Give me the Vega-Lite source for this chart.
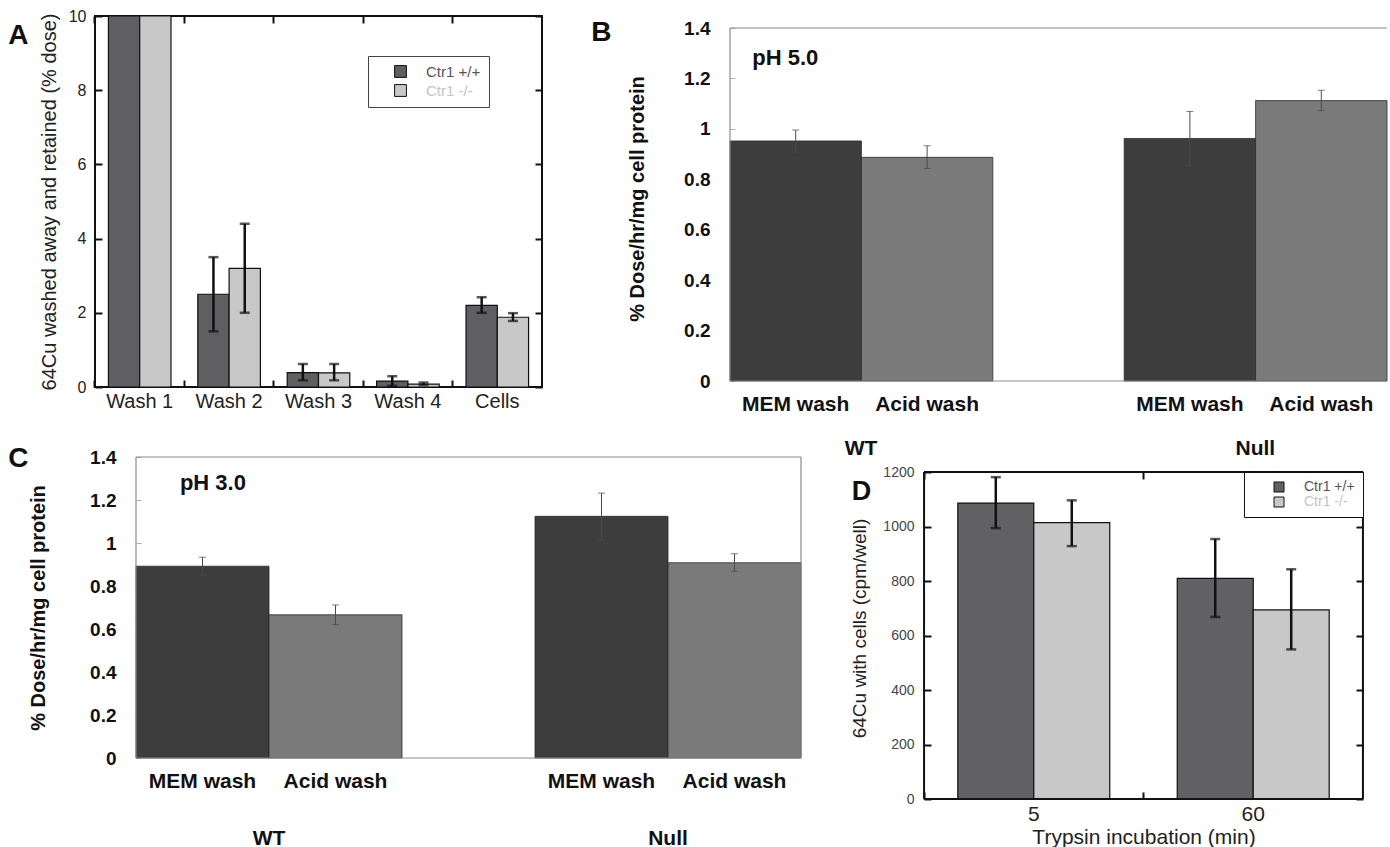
{
  "$schema": "https://vega.github.io/schema/vega-lite/v6.json",
  "padding": {"left": 7, "top": 7, "right": 0, "bottom": 0},
  "background": "white",
  "config": {
    "font": "Liberation Sans",
    "view": {"stroke": null},
    "axis": {"grid": false, "labelFont": "Liberation Sans", "titleFont": "Liberation Sans"},
    "legend": {"labelFont": "Liberation Sans"},
    "title": {"font": "Liberation Sans"}
  },
  "datasets": {
    "a": [
      {"step": "Wash 1", "genotype": "Ctr1 +/+", "value": 10, "lo": null, "hi": null},
      {"step": "Wash 1", "genotype": "Ctr1 -/-", "value": 10, "lo": null, "hi": null},
      {"step": "Wash 2", "genotype": "Ctr1 +/+", "value": 2.5, "lo": 1.5, "hi": 3.5},
      {"step": "Wash 2", "genotype": "Ctr1 -/-", "value": 3.2, "lo": 2.0, "hi": 4.4},
      {"step": "Wash 3", "genotype": "Ctr1 +/+", "value": 0.39, "lo": 0.18, "hi": 0.62},
      {"step": "Wash 3", "genotype": "Ctr1 -/-", "value": 0.38, "lo": 0.18, "hi": 0.62},
      {"step": "Wash 4", "genotype": "Ctr1 +/+", "value": 0.16, "lo": 0.03, "hi": 0.29},
      {"step": "Wash 4", "genotype": "Ctr1 -/-", "value": 0.08, "lo": 0.05, "hi": 0.12},
      {"step": "Cells", "genotype": "Ctr1 +/+", "value": 2.2, "lo": 2.0, "hi": 2.42},
      {"step": "Cells", "genotype": "Ctr1 -/-", "value": 1.88, "lo": 1.78, "hi": 1.99}
    ],
    "b": [
      {"key": "WT|MEM", "group": "WT", "wash": "MEM wash", "value": 0.952, "lo": 0.908, "hi": 0.995},
      {"key": "WT|Acid", "group": "WT", "wash": "Acid wash", "value": 0.887, "lo": 0.843, "hi": 0.933},
      {"key": "Null|MEM", "group": "Null", "wash": "MEM wash", "value": 0.962, "lo": 0.853, "hi": 1.069},
      {"key": "Null|Acid", "group": "Null", "wash": "Acid wash", "value": 1.112, "lo": 1.072, "hi": 1.153}
    ],
    "c": [
      {"key": "WT|MEM", "group": "WT", "wash": "MEM wash", "value": 0.892, "lo": 0.851, "hi": 0.934},
      {"key": "WT|Acid", "group": "WT", "wash": "Acid wash", "value": 0.666, "lo": 0.62, "hi": 0.712},
      {"key": "Null|MEM", "group": "Null", "wash": "MEM wash", "value": 1.124, "lo": 1.014, "hi": 1.232},
      {"key": "Null|Acid", "group": "Null", "wash": "Acid wash", "value": 0.908, "lo": 0.868, "hi": 0.95}
    ],
    "d": [
      {"time": "5", "genotype": "Ctr1 +/+", "value": 1086, "lo": 994, "hi": 1181},
      {"time": "5", "genotype": "Ctr1 -/-", "value": 1014, "lo": 928, "hi": 1096},
      {"time": "60", "genotype": "Ctr1 +/+", "value": 810, "lo": 668, "hi": 954},
      {"time": "60", "genotype": "Ctr1 -/-", "value": 694, "lo": 549, "hi": 843}
    ],
    "one": [{"k": 1}]
  },
  "columns": 1,
  "align": "none",
  "spacing": {"row": -13, "column": 0},
  "resolve": {"scale": {"color": "independent", "xOffset": "independent"}, "legend": {"color": "independent"}},
  "concat": [
    {
      "spacing": 47,
      "resolve": {"scale": {"color": "independent", "xOffset": "independent"}, "legend": {"color": "independent"}},
      "hconcat": [
        {
          "width": 447, "height": 371,
          "view": {"stroke": "#111111", "strokeWidth": 2},
          "title": {"text": "A", "orient": "left", "anchor": "end", "frame": "group", "angle": 0, "align": "right", "baseline": "top", "fontSize": 28, "fontWeight": "bold", "color": "#111111", "offset": -9.5, "dy": 6},
          "data": {"name": "a"},
          "resolve": {"axis": {"x": "independent", "y": "independent"}},
          "layer": [
            {
              "mark": {"type": "bar", "stroke": "#111111", "strokeWidth": 1.2},
              "encoding": {
                "x": {"field": "step", "type": "nominal", "scale": {"domain": ["Wash 1", "Wash 2", "Wash 3", "Wash 4", "Cells"], "paddingInner": 0.3, "paddingOuter": 0.15}, "title": null,
                      "axis": {"orient": "bottom", "ticks": false, "domain": false, "labelAngle": 0, "labelFontSize": 20, "labelPadding": 4, "labelColor": "#222222"}},
                "xOffset": {"field": "genotype", "type": "nominal", "scale": {"domain": ["Ctr1 +/+", "Ctr1 -/-"], "paddingInner": 0, "paddingOuter": 0}},
                "y": {"field": "value", "type": "quantitative", "scale": {"domain": [0, 10], "nice": false}, "title": "64Cu washed away and retained (% dose)",
                      "axis": {"orient": "left", "values": [0, 2, 4, 6, 8, 10], "format": "d", "domain": false, "tickSize": -7, "tickWidth": 2, "tickColor": "#111111", "labelFontSize": 16, "labelPadding": 16, "labelColor": "#222222", "titleFontSize": 20, "titleFontWeight": "normal", "titleColor": "#222222", "titlePadding": 9}},
                "color": {"field": "genotype", "type": "nominal", "scale": {"domain": ["Ctr1 +/+", "Ctr1 -/-"], "range": ["#5f5f61", "#c8c8c8"]},
                          "legend": {"orient": "none", "legendX": 273, "legendY": 40, "title": null, "strokeColor": "#444444", "fillColor": "white", "padding": 8, "symbolType": "square", "symbolSize": 140, "symbolStrokeColor": "#111111", "symbolStrokeWidth": 1, "symbolOffset": 17, "labelOffset": 18, "labelFontSize": 15, "rowPadding": 2, "labelColor": "#555555",
                                     "encode": {"labels": {"update": {"fill": {"signal": "datum.value === 'Ctr1 -/-' ? '#c4c4c4' : '#555555'"}}}}}}
              }
            },
            {
              "mark": {"type": "rule", "color": "#111111", "strokeWidth": 2.5},
              "encoding": {
                "x": {"field": "step", "type": "nominal", "scale": {"domain": ["Wash 1", "Wash 2", "Wash 3", "Wash 4", "Cells"], "paddingInner": 0.3, "paddingOuter": 0.15}, "title": null,
                      "axis": {"orient": "top", "labels": false, "domain": false, "tickSize": -7, "tickWidth": 2, "tickColor": "#111111", "bandPosition": -0.2143}},
                "xOffset": {"field": "genotype", "type": "nominal", "scale": {"domain": ["Ctr1 +/+", "Ctr1 -/-"], "paddingInner": 0, "paddingOuter": 0}},
                "y": {"field": "lo", "type": "quantitative", "scale": {"domain": [0, 10], "nice": false}, "title": null,
                      "axis": {"orient": "right", "labels": false, "domain": false, "values": [0, 2, 4, 6, 8, 10], "tickSize": -7, "tickWidth": 2, "tickColor": "#111111"}},
                "y2": {"field": "hi"}
              }
            },
            {
              "mark": {"type": "tick", "color": "#111111", "thickness": 2.5, "size": 10},
              "encoding": {
                "x": {"field": "step", "type": "nominal", "scale": {"domain": ["Wash 1", "Wash 2", "Wash 3", "Wash 4", "Cells"], "paddingInner": 0.3, "paddingOuter": 0.15}, "title": null,
                      "axis": {"orient": "bottom", "labels": false, "domain": false, "tickSize": -7, "tickWidth": 2, "tickColor": "#111111", "bandPosition": -0.2143}},
                "xOffset": {"field": "genotype", "type": "nominal", "scale": {"domain": ["Ctr1 +/+", "Ctr1 -/-"], "paddingInner": 0, "paddingOuter": 0}},
                "y": {"field": "lo", "type": "quantitative", "scale": {"domain": [0, 10], "nice": false}, "axis": null}
              }
            },
            {
              "mark": {"type": "tick", "color": "#111111", "thickness": 2.5, "size": 10},
              "encoding": {
                "x": {"field": "step", "type": "nominal", "scale": {"domain": ["Wash 1", "Wash 2", "Wash 3", "Wash 4", "Cells"], "paddingInner": 0.3, "paddingOuter": 0.15}, "axis": null},
                "xOffset": {"field": "genotype", "type": "nominal", "scale": {"domain": ["Ctr1 +/+", "Ctr1 -/-"], "paddingInner": 0, "paddingOuter": 0}},
                "y": {"field": "hi", "type": "quantitative", "scale": {"domain": [0, 10], "nice": false}, "axis": null}
              }
            }
          ]
        },
        {
          "width": 657, "height": 365,
          "title": {"text": "B", "orient": "left", "anchor": "end", "frame": "group", "angle": 0, "align": "right", "baseline": "top", "fontSize": 28, "fontWeight": "bold", "color": "#111111", "offset": -4, "dy": 3},
          "data": {"name": "b"},
          "resolve": {"axis": {"x": "independent", "y": "independent"}},
          "layer": [
            {
              "mark": {"type": "bar", "stroke": "#2a2a2a", "strokeWidth": 0.8},
              "encoding": {
                "x": {"field": "key", "type": "nominal", "scale": {"domain": ["WT|MEM", "WT|Acid", "gap", "Null|MEM", "Null|Acid"], "paddingInner": 0, "paddingOuter": 0}, "title": null,
                      "axis": {"orient": "bottom", "labelExpr": "indexof(datum.value, 'MEM') >= 0 ? 'MEM wash' : (indexof(datum.value, 'Acid') >= 0 ? 'Acid wash' : '')", "ticks": false, "domain": false, "labelAngle": 0, "labelFontSize": 21, "labelFontWeight": "bold", "labelColor": "#111111", "labelPadding": 12}},
                "y": {"field": "value", "type": "quantitative", "scale": {"domain": [0, 1.4476], "nice": false}, "title": "% Dose/hr/mg cell protein",
                      "axis": {"orient": "left", "values": [0, 0.2, 0.4, 0.6, 0.8, 1, 1.2, 1.4], "format": "~g", "domain": false, "tickSize": -5, "tickColor": "#b0b0b0", "tickWidth": 1, "labelFontSize": 19, "labelFontWeight": "bold", "labelColor": "#111111", "labelPadding": 25, "titleFontSize": 20, "titleFontWeight": "bold", "titleColor": "#111111", "titlePadding": 36}},
                "color": {"field": "wash", "type": "nominal", "scale": {"domain": ["MEM wash", "Acid wash"], "range": ["#3d3d3d", "#7a7a7a"]}, "legend": null}
              }
            },
            {
              "mark": {"type": "rule", "color": "#4a4a4a", "strokeWidth": 1},
              "encoding": {
                "x": {"field": "key", "type": "nominal", "scale": {"domain": ["WT|MEM", "WT|Acid", "gap", "Null|MEM", "Null|Acid"], "paddingInner": 0, "paddingOuter": 0}, "title": null,
                      "axis": {"orient": "bottom", "offset": 52, "labelOffset": -66, "labelExpr": "datum.value === 'WT|Acid' ? 'WT' : (datum.value === 'Null|Acid' ? 'Null' : '')", "ticks": false, "domain": false, "labelAngle": 0, "labelFontSize": 21, "labelFontWeight": "bold", "labelColor": "#111111", "labelPadding": 4}},
                "y": {"field": "lo", "type": "quantitative", "scale": {"domain": [0, 1.4476], "nice": false}, "axis": null},
                "y2": {"field": "hi"}
              }
            },
            {
              "mark": {"type": "tick", "color": "#4a4a4a", "thickness": 1, "size": 7},
              "encoding": {
                "x": {"field": "key", "type": "nominal", "scale": {"domain": ["WT|MEM", "WT|Acid", "gap", "Null|MEM", "Null|Acid"], "paddingInner": 0, "paddingOuter": 0}, "axis": null},
                "y": {"field": "lo", "type": "quantitative", "scale": {"domain": [0, 1.4476], "nice": false}, "axis": null}
              }
            },
            {
              "mark": {"type": "tick", "color": "#4a4a4a", "thickness": 1, "size": 7},
              "encoding": {
                "x": {"field": "key", "type": "nominal", "scale": {"domain": ["WT|MEM", "WT|Acid", "gap", "Null|MEM", "Null|Acid"], "paddingInner": 0, "paddingOuter": 0}, "axis": null},
                "y": {"field": "hi", "type": "quantitative", "scale": {"domain": [0, 1.4476], "nice": false}, "axis": null}
              }
            },
            {
              "data": {"name": "one"},
              "mark": {"type": "rule", "color": "#8c8c8c", "strokeWidth": 1.2},
              "encoding": {"y": {"datum": 1.4, "type": "quantitative", "axis": null}}
            },
            {
              "data": {"name": "one"},
              "mark": {"type": "rule", "color": "#8c8c8c", "strokeWidth": 1.2},
              "encoding": {"y": {"datum": 0, "type": "quantitative", "axis": null}}
            },
            {
              "data": {"name": "one"},
              "mark": {"type": "rule", "color": "#8c8c8c", "strokeWidth": 1.2},
              "encoding": {
                "x": {"datum": "WT|MEM", "type": "nominal", "bandPosition": 0, "axis": null},
                "y": {"datum": 0, "type": "quantitative", "axis": null},
                "y2": {"datum": 1.4}
              }
            },
            {
              "data": {"values": [{"label": "pH 5.0"}]},
              "mark": {"type": "text", "align": "left", "baseline": "middle", "fontSize": 22, "fontWeight": "bold", "color": "#111111"},
              "encoding": {
                "x": {"datum": "WT|MEM", "type": "nominal", "bandPosition": 0.17, "axis": null},
                "y": {"datum": 1.28, "type": "quantitative", "axis": null},
                "text": {"field": "label"}
              }
            }
          ]
        }
      ]
    },
    {
      "spacing": 48,
      "resolve": {"scale": {"color": "independent", "xOffset": "independent"}, "legend": {"color": "independent"}},
      "hconcat": [
        {
          "width": 706, "height": 301,
          "title": {"text": "C", "orient": "left", "anchor": "end", "frame": "group", "angle": 0, "align": "right", "baseline": "top", "fontSize": 28, "fontWeight": "bold", "color": "#111111", "offset": -20, "dy": -12},
          "data": {"name": "c"},
          "resolve": {"axis": {"x": "independent", "y": "independent"}},
          "layer": [
            {
              "mark": {"type": "bar", "stroke": "#2a2a2a", "strokeWidth": 0.8},
              "encoding": {
                "x": {"field": "key", "type": "nominal", "scale": {"domain": ["WT|MEM", "WT|Acid", "gap", "Null|MEM", "Null|Acid"], "range": [41, 706], "paddingInner": 0, "paddingOuter": 0}, "title": null,
                      "axis": {"orient": "bottom", "labelExpr": "indexof(datum.value, 'MEM') >= 0 ? 'MEM wash' : (indexof(datum.value, 'Acid') >= 0 ? 'Acid wash' : '')", "ticks": false, "domain": false, "labelAngle": 0, "labelFontSize": 21, "labelFontWeight": "bold", "labelColor": "#111111", "labelPadding": 12}},
                "y": {"field": "value", "type": "quantitative", "scale": {"domain": [0, 1.4], "nice": false}, "title": "% Dose/hr/mg cell protein",
                      "axis": {"orient": "left", "offset": -41, "values": [0, 0.2, 0.4, 0.6, 0.8, 1, 1.2, 1.4], "format": "~g", "domain": false, "tickSize": -5, "tickColor": "#b0b0b0", "tickWidth": 1, "labelFontSize": 19, "labelFontWeight": "bold", "labelColor": "#111111", "labelPadding": 25, "titleFontSize": 20, "titleFontWeight": "bold", "titleColor": "#111111", "titlePadding": 41}},
                "color": {"field": "wash", "type": "nominal", "scale": {"domain": ["MEM wash", "Acid wash"], "range": ["#3d3d3d", "#7a7a7a"]}, "legend": null}
              }
            },
            {
              "mark": {"type": "rule", "color": "#4a4a4a", "strokeWidth": 1},
              "encoding": {
                "x": {"field": "key", "type": "nominal", "scale": {"domain": ["WT|MEM", "WT|Acid", "gap", "Null|MEM", "Null|Acid"], "range": [41, 706], "paddingInner": 0, "paddingOuter": 0}, "title": null,
                      "axis": {"orient": "bottom", "offset": 65, "labelOffset": -66.5, "labelExpr": "datum.value === 'WT|Acid' ? 'WT' : (datum.value === 'Null|Acid' ? 'Null' : '')", "ticks": false, "domain": false, "labelAngle": 0, "labelFontSize": 21, "labelFontWeight": "bold", "labelColor": "#111111", "labelPadding": 4}},
                "y": {"field": "lo", "type": "quantitative", "scale": {"domain": [0, 1.4], "nice": false}, "axis": null},
                "y2": {"field": "hi"}
              }
            },
            {
              "mark": {"type": "tick", "color": "#4a4a4a", "thickness": 1, "size": 7},
              "encoding": {
                "x": {"field": "key", "type": "nominal", "scale": {"domain": ["WT|MEM", "WT|Acid", "gap", "Null|MEM", "Null|Acid"], "range": [41, 706], "paddingInner": 0, "paddingOuter": 0}, "axis": null},
                "y": {"field": "lo", "type": "quantitative", "scale": {"domain": [0, 1.4], "nice": false}, "axis": null}
              }
            },
            {
              "mark": {"type": "tick", "color": "#4a4a4a", "thickness": 1, "size": 7},
              "encoding": {
                "x": {"field": "key", "type": "nominal", "scale": {"domain": ["WT|MEM", "WT|Acid", "gap", "Null|MEM", "Null|Acid"], "range": [41, 706], "paddingInner": 0, "paddingOuter": 0}, "axis": null},
                "y": {"field": "hi", "type": "quantitative", "scale": {"domain": [0, 1.4], "nice": false}, "axis": null}
              }
            },
            {
              "data": {"name": "one"},
              "mark": {"type": "rule", "color": "#8c8c8c", "strokeWidth": 1.2},
              "encoding": {
                "x": {"datum": "WT|MEM", "type": "nominal", "bandPosition": 0, "axis": null},
                "x2": {"datum": "Null|Acid", "bandPosition": 1},
                "y": {"datum": 1.4, "type": "quantitative", "axis": null}
              }
            },
            {
              "data": {"name": "one"},
              "mark": {"type": "rule", "color": "#8c8c8c", "strokeWidth": 1.2},
              "encoding": {
                "x": {"datum": "WT|MEM", "type": "nominal", "bandPosition": 0, "axis": null},
                "x2": {"datum": "Null|Acid", "bandPosition": 1},
                "y": {"datum": 0, "type": "quantitative", "axis": null}
              }
            },
            {
              "data": {"name": "one"},
              "mark": {"type": "rule", "color": "#8c8c8c", "strokeWidth": 1.2},
              "encoding": {
                "x": {"datum": "WT|MEM", "type": "nominal", "bandPosition": 0, "axis": null},
                "y": {"datum": 0, "type": "quantitative", "axis": null},
                "y2": {"datum": 1.4}
              }
            },
            {
              "data": {"name": "one"},
              "mark": {"type": "rule", "color": "#8c8c8c", "strokeWidth": 1.2},
              "encoding": {
                "x": {"datum": "Null|Acid", "type": "nominal", "bandPosition": 1, "axis": null},
                "y": {"datum": 0, "type": "quantitative", "axis": null},
                "y2": {"datum": 1.4}
              }
            },
            {
              "data": {"values": [{"label": "pH 3.0"}]},
              "mark": {"type": "text", "align": "left", "baseline": "middle", "fontSize": 22, "fontWeight": "bold", "color": "#111111"},
              "encoding": {
                "x": {"datum": "WT|MEM", "type": "nominal", "bandPosition": 0.33, "axis": null},
                "y": {"datum": 1.28, "type": "quantitative", "axis": null},
                "text": {"field": "label"}
              }
            }
          ]
        },
        {
          "width": 439, "height": 342,
          "title": {"text": "D", "orient": "left", "anchor": "end", "frame": "group", "angle": 0, "align": "right", "baseline": "top", "fontSize": 27, "fontWeight": "bold", "color": "#111111", "offset": 0, "dy": 22, "dx": 40},
          "data": {"name": "d"},
          "resolve": {"axis": {"x": "independent", "y": "independent"}},
          "layer": [
            {
              "mark": {"type": "bar", "stroke": "#111111", "strokeWidth": 1.2},
              "encoding": {
                "x": {"field": "time", "type": "nominal", "scale": {"domain": ["5", "60"], "paddingInner": 0.3075, "paddingOuter": 0.154}, "title": "Trypsin incubation (min)",
                      "axis": {"orient": "bottom", "ticks": false, "domain": false, "labelAngle": 0, "labelFontSize": 21, "labelPadding": 4, "labelColor": "#222222", "titleFontSize": 21, "titleFontWeight": "normal", "titleColor": "#222222", "titlePadding": 2}},
                "xOffset": {"field": "genotype", "type": "nominal", "scale": {"domain": ["Ctr1 +/+", "Ctr1 -/-"], "paddingInner": 0, "paddingOuter": 0}},
                "y": {"field": "value", "type": "quantitative", "scale": {"domain": [0, 1255.05], "nice": false}, "title": "64Cu with cells (cpm/well)",
                      "axis": {"orient": "left", "values": [0, 200, 400, 600, 800, 1000, 1200], "format": "d", "domain": false, "tickSize": -7, "tickWidth": 2, "tickColor": "#111111", "labelFontSize": 14, "labelPadding": 17, "labelColor": "#444444", "titleFontSize": 19, "titleFontWeight": "normal", "titleColor": "#222222", "titlePadding": 13}},
                "color": {"field": "genotype", "type": "nominal", "scale": {"domain": ["Ctr1 +/+", "Ctr1 -/-"], "range": ["#616163", "#c8c8c8"]},
                          "legend": {"orient": "none", "legendX": 320, "legendY": 15, "title": null, "strokeColor": "#111111", "fillColor": "white", "padding": 8, "symbolType": "square", "symbolSize": 100, "symbolStrokeColor": "#111111", "symbolStrokeWidth": 1, "symbolOffset": 20, "labelOffset": 18, "labelFontSize": 14, "rowPadding": 1, "labelColor": "#555555",
                                     "encode": {"labels": {"update": {"fill": {"signal": "datum.value === 'Ctr1 -/-' ? '#c4c4c4' : '#555555'"}}}}}}
              }
            },
            {
              "mark": {"type": "rule", "color": "#111111", "strokeWidth": 2.5},
              "encoding": {
                "x": {"field": "time", "type": "nominal", "scale": {"domain": ["5", "60"], "paddingInner": 0.3075, "paddingOuter": 0.154}, "title": null,
                      "axis": {"orient": "top", "offset": -15, "labels": false, "domain": false, "tickSize": -7, "tickWidth": 2, "tickColor": "#111111", "bandPosition": -0.222}},
                "xOffset": {"field": "genotype", "type": "nominal", "scale": {"domain": ["Ctr1 +/+", "Ctr1 -/-"], "paddingInner": 0, "paddingOuter": 0}},
                "y": {"field": "lo", "type": "quantitative", "scale": {"domain": [0, 1255.05], "nice": false}, "title": null,
                      "axis": {"orient": "right", "labels": false, "domain": false, "values": [0, 200, 400, 600, 800, 1000, 1200], "tickSize": -7, "tickWidth": 2, "tickColor": "#111111"}},
                "y2": {"field": "hi"}
              }
            },
            {
              "mark": {"type": "tick", "color": "#111111", "thickness": 2.5, "size": 10},
              "encoding": {
                "x": {"field": "time", "type": "nominal", "scale": {"domain": ["5", "60"], "paddingInner": 0.3075, "paddingOuter": 0.154}, "title": null,
                      "axis": {"orient": "bottom", "labels": false, "domain": false, "tickSize": -7, "tickWidth": 2, "tickColor": "#111111", "bandPosition": -0.222}},
                "xOffset": {"field": "genotype", "type": "nominal", "scale": {"domain": ["Ctr1 +/+", "Ctr1 -/-"], "paddingInner": 0, "paddingOuter": 0}},
                "y": {"field": "lo", "type": "quantitative", "scale": {"domain": [0, 1255.05], "nice": false}, "axis": null}
              }
            },
            {
              "mark": {"type": "tick", "color": "#111111", "thickness": 2.5, "size": 10},
              "encoding": {
                "x": {"field": "time", "type": "nominal", "scale": {"domain": ["5", "60"], "paddingInner": 0.3075, "paddingOuter": 0.154}, "axis": null},
                "xOffset": {"field": "genotype", "type": "nominal", "scale": {"domain": ["Ctr1 +/+", "Ctr1 -/-"], "paddingInner": 0, "paddingOuter": 0}},
                "y": {"field": "hi", "type": "quantitative", "scale": {"domain": [0, 1255.05], "nice": false}, "axis": null}
              }
            },
            {
              "data": {"name": "one"},
              "mark": {"type": "rule", "color": "#111111", "strokeWidth": 2},
              "encoding": {"y": {"datum": 1200, "type": "quantitative", "axis": null}}
            },
            {
              "data": {"name": "one"},
              "mark": {"type": "rule", "color": "#111111", "strokeWidth": 2},
              "encoding": {"y": {"datum": 0, "type": "quantitative", "axis": null}}
            },
            {
              "data": {"name": "one"},
              "mark": {"type": "rule", "color": "#111111", "strokeWidth": 2},
              "encoding": {
                "x": {"datum": "5", "type": "nominal", "bandPosition": -0.222, "axis": null},
                "y": {"datum": 0, "type": "quantitative", "axis": null},
                "y2": {"datum": 1200}
              }
            },
            {
              "data": {"name": "one"},
              "mark": {"type": "rule", "color": "#111111", "strokeWidth": 2},
              "encoding": {
                "x": {"datum": "60", "type": "nominal", "bandPosition": 1.222, "axis": null},
                "y": {"datum": 0, "type": "quantitative", "axis": null},
                "y2": {"datum": 1200}
              }
            }
          ]
        }
      ]
    }
  ]
}
